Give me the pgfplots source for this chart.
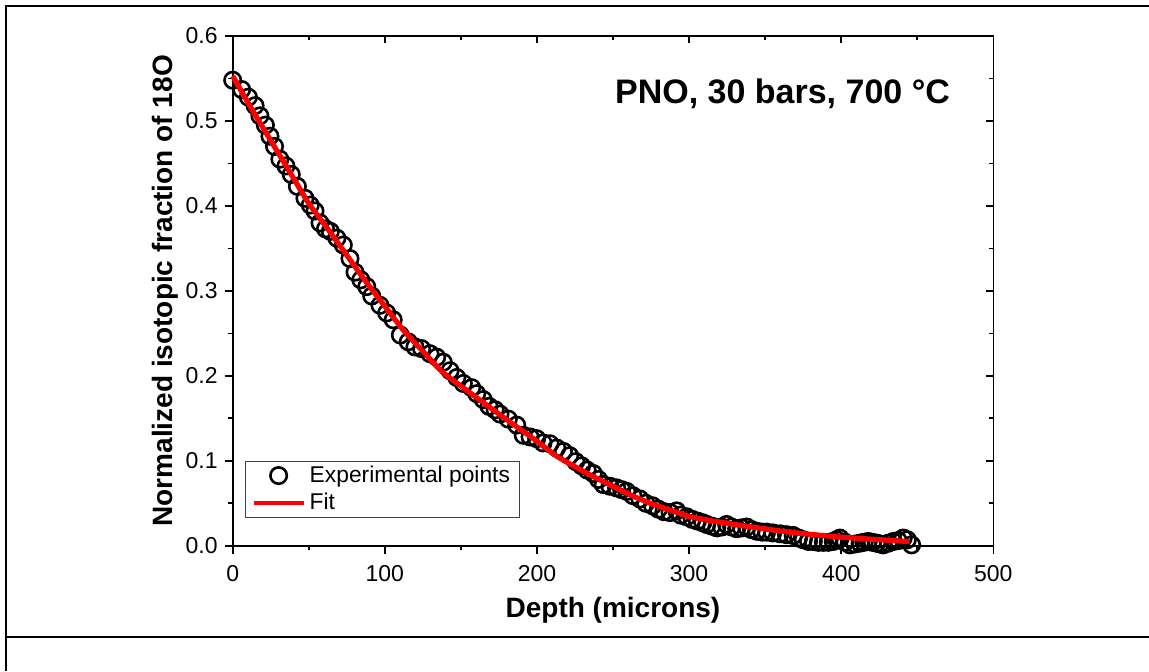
\documentclass[border=0pt]{standalone}
\usepackage{fontspec}
\setmainfont{Liberation Sans}
\usepackage{pgfplots}
\usepackage{pgfplotstable}
\pgfplotsset{compat=1.18}

% experimental 18O fraction vs depth (microns)
\pgfplotstableread{
x y
0.0 0.548
5.9 0.537
10.3 0.528
14.7 0.518
17.9 0.506
21.5 0.495
24.5 0.482
27.5 0.470
31.0 0.455
35.0 0.447
38.5 0.437
42.5 0.423
47.5 0.409
51.0 0.401
54.1 0.394
57.4 0.380
61.0 0.373
64.2 0.370
68.5 0.362
72.7 0.354
77.1 0.338
80.4 0.322
84.2 0.313
88.1 0.305
91.4 0.294
96.8 0.283
101.2 0.274
105.5 0.266
110.2 0.248
115.4 0.240
119.8 0.234
124.2 0.232
129.7 0.226
134.1 0.222
138.4 0.216
142.9 0.206
147.3 0.198
151.6 0.191
157.1 0.186
160.4 0.179
164.7 0.172
168.5 0.164
172.5 0.160
175.7 0.155
181.2 0.149
186.7 0.142
191.0 0.130
195.5 0.128
199.8 0.126
204.0 0.121
208.6 0.120
213.0 0.115
217.4 0.111
221.5 0.106
225.5 0.099
229.4 0.094
233.0 0.089
237.0 0.085
240.5 0.078
243.6 0.072
248.0 0.070
252.4 0.068
255.7 0.066
259.0 0.064
263.0 0.059
267.7 0.055
271.5 0.050
276.0 0.047
279.8 0.043
283.5 0.040
287.5 0.039
291.9 0.041
294.5 0.036
298.5 0.034
302.0 0.031
305.5 0.029
309.0 0.027
311.6 0.025
315.0 0.023
318.2 0.021
321.5 0.022
324.7 0.025
328.0 0.022
331.3 0.020
334.5 0.021
337.9 0.022
341.0 0.019
344.5 0.017
348.0 0.016
351.0 0.016
355.0 0.015
359.8 0.014
364.0 0.013
368.5 0.012
372.0 0.009
375.1 0.007
378.5 0.005
381.7 0.005
385.0 0.004
388.3 0.004
391.5 0.004
394.8 0.005
397.0 0.007
399.2 0.009
402.5 0.004
405.8 0.001
409.0 0.002
412.4 0.003
415.0 0.004
417.8 0.005
420.5 0.004
423.3 0.003
425.5 0.002
427.7 0.001
431.0 0.003
434.3 0.005
437.5 0.006
440.8 0.009
443.5 0.007
446.3 0.001
}\exptable

% fitted profile
\pgfplotstableread{
x y
0 0.553
12.5 0.514
25 0.477
37.5 0.440
50 0.403
62.5 0.373
75 0.342
87.5 0.311
100 0.282
112.5 0.253
125 0.229
137.5 0.205
150 0.188
162.5 0.1715
175 0.155
187.5 0.139
200 0.123
212.5 0.106
225 0.093
237.5 0.081
250 0.070
262.5 0.059
275 0.0496
287.5 0.042
300 0.0345
312.5 0.030
325 0.0265
337.5 0.023
350 0.0198
362.5 0.0168
375 0.0142
387.5 0.0120
400 0.0101
412.5 0.0085
425 0.0071
437.5 0.0057
445 0.0048
}\fittable

\pgfplotsset{
  frame/.style={scale only axis, width=380.3pt, height=254.85pt,
    at={(116.35pt,62.65pt)}, anchor=south west,
    xmin=0, xmax=500, ymin=0, ymax=0.6,
    xtick={0,100,200,300,400,500}, ytick={0,0.1,0.2,0.3,0.4,0.5,0.6},
    minor x tick num=1, minor y tick num=1,
    axis line style={line width=0.8pt},
    tick style={black, line width=0.8pt},
    major tick length=4pt, minor tick length=2.2pt},
  ptlegend/.style={legend image code/.code={\draw[mark repeat=2,mark phase=2,##1]
    plot coordinates {(0pt,0pt)(12.5pt,0pt)(25pt,0pt)};}},
  linelegend/.style={legend image code/.code={\draw[##1, line width=2.1pt] (0pt,0pt) -- (25pt,0pt);}},
}

\begin{document}
\begin{tikzpicture}
\path[use as bounding box] (0,0) rectangle (574.5pt,335.5pt);
\draw[line width=1.2pt] (574.5pt,332.5pt) -- (3pt,332.5pt) -- (3pt,0pt);
\draw[line width=1.2pt] (3pt,17pt) -- (574.5pt,17pt);

% top and right ticks point inwards
\begin{axis}[frame, tick align=inside, xtick pos=right, ytick pos=right,
  xticklabels={}, yticklabels={}, major tick length=3.7pt, minor tick length=2pt]
\end{axis}

\begin{axis}[frame, tick align=outside, xtick pos=left, ytick pos=left,
  clip mode=individual, clip=false,
  /pgf/number format/assume math mode=true,
  tick label style={font=\fontsize{11.5}{13}\selectfont},
  xticklabel style={yshift=-2.5pt},
  yticklabel style={/pgf/number format/.cd, fixed, fixed zerofill, precision=1},
  xlabel={Depth (microns)},
  ylabel={Normalized isotopic fraction of 18O},
  label style={font=\fontsize{14}{16}\selectfont\bfseries},
  xlabel style={at={(axis description cs:0.5,-0.127)}, anchor=center},
  ylabel style={at={(axis description cs:-0.089,0.5)}, anchor=center},
  legend style={at={(axis description cs:0.0162,0.1668)}, anchor=north west,
    draw=black!75, line width=0.5pt, font=\fontsize{11.4}{13}\selectfont,
    inner xsep=3pt, inner ysep=0.3pt, cells={anchor=west},
    /tikz/every even column/.append style={column sep=2pt}},
  legend cell align=left]

\addplot[only marks, mark=o, mark size=4.1pt,
  mark options={draw=black, fill=white, line width=1.3pt}, ptlegend]
  table {\exptable};
\addlegendentry{Experimental points}

\addplot[red, line width=2.6pt, smooth, tension=0.4, linelegend]
  table {\fittable};
\addlegendentry{Fit}

\node[font=\fontsize{17}{20}\selectfont\bfseries, anchor=base]
  at (axis description cs:0.7229,0.868) {PNO, 30 bars, 700 °C};
\end{axis}
\end{tikzpicture}
\end{document}
